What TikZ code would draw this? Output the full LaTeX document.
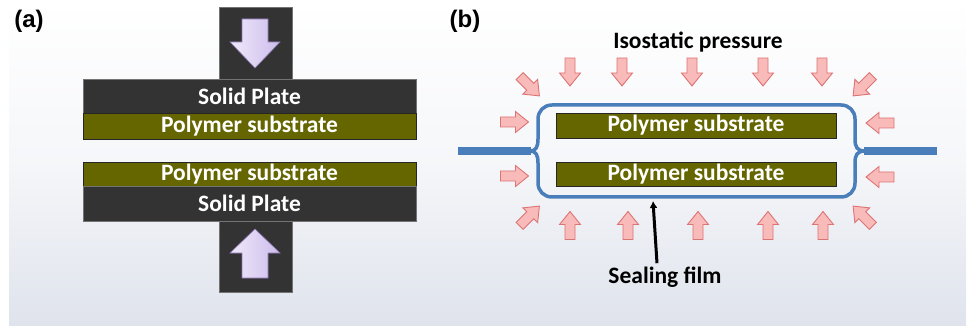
\documentclass[tikz,border=0pt]{standalone}
\usepackage{fontspec}
\setmainfont{Carlito}
\newfontfamily\panelfont{Liberation Sans}
\usetikzlibrary{arrows.meta}

\definecolor{plategray}{HTML}{333333}
\definecolor{polyolive}{HTML}{666600}
\definecolor{filmblue}{HTML}{4A7EBB}
\definecolor{pinkfill}{HTML}{F9BABA}
\definecolor{pinkline}{HTML}{DD7474}
\definecolor{lavlight}{HTML}{EFEAFA}
\definecolor{lavdark}{HTML}{CDBCEC}
\definecolor{lavline}{HTML}{8C74B4}
\definecolor{panelbot}{HTML}{DFE3EC}

\tikzset{
  bigtext/.style={font=\fontsize{23.5}{23.5}\selectfont\bfseries},
  plate/.style={bigtext, fill=plategray, draw=black!55, line width=0.6pt, text=white, inner sep=0pt},
  polymer/.style={bigtext, fill=polyolive, draw=black!85, line width=0.8pt, text=white, inner sep=0pt},
  tag/.style={font=\fontsize{24}{24}\selectfont\panelfont\bfseries},
  film/.style={draw=filmblue, line width=3.5pt},
  pressarrow/.pic={
    \filldraw[fill=pinkfill, draw=pinkline, line width=0.9pt]
      (-14,-5) -- (1,-5) -- (1,-10.5) -- (14,0) -- (1,10.5) -- (1,5) -- (-14,5) -- cycle;
  }
}

\begin{document}
\begin{tikzpicture}[x=1pt,y=-1pt]
  \useasboundingbox (0,0) rectangle (967,326);
  \shade[top color=white, bottom color=panelbot, middle color=white!70!panelbot] (9,0) rectangle (966,325);

  % ---- (a) plates pressed together
  \node[tag] (taga) at (29,21) {(a)};
  \node[plate, minimum width=73, minimum height=72] (topstem) at (255.5,43) {};
  \node[plate, minimum width=73, minimum height=71] (botstem) at (255.5,256.5) {};
  \node[plate, minimum width=333, minimum height=34] (topplate) at (249.5,96) {Solid Plate};
  \node[polymer, minimum width=333, minimum height=26] (toppoly) at (249.5,126) {Polymer substrate};
  \node[polymer, minimum width=333, minimum height=24] (botpoly) at (249.5,174) {Polymer substrate};
  \node[plate, minimum width=333, minimum height=35] (botplate) at (249.5,203.5) {Solid Plate};

  \shadedraw[left color=lavlight, right color=lavdark, draw=lavline, line width=0.6pt]
    (242,19) -- (268,19) -- (268,42) -- (280,42) -- (255,68) -- (230,42) -- (242,42) -- cycle;
  \shadedraw[left color=lavlight, right color=lavdark, draw=lavline, line width=0.6pt]
    (242,278) -- (268,278) -- (268,253) -- (280,253) -- (255,229) -- (230,253) -- (242,253) -- cycle;

  % ---- (b) isostatic pressing in a sealed film
  \node[tag] (tagb) at (465,21) {(b)};
  \node[bigtext] (iso) at (698,42) {Isostatic pressure};

  \node[polymer, minimum width=280, minimum height=25] (upoly) at (696,125.5) {Polymer substrate};
  \node[polymer, minimum width=280, minimum height=24] (lpoly) at (696,174) {Polymer substrate};

  % film bag with its two flat ends
  \draw[film, line width=7.5pt] (458,151) -- (531,151);
  \draw[film, line width=7.5pt] (864,151) -- (937,151);
  \draw[film, line join=round]
    (530,151) .. controls (536,151) and (538,147) .. (538,139) -- (538,119)
    .. controls (538,111) and (544,105) .. (552,105) -- (841,105)
    .. controls (849,105) and (855,111) .. (855,119) -- (855,139)
    .. controls (855,147) and (857,151) .. (865,151)
    .. controls (857,151) and (855,155) .. (855,163) -- (855,183)
    .. controls (855,191) and (849,197) .. (841,197) -- (552,197)
    .. controls (544,197) and (538,191) .. (538,183) -- (538,163)
    .. controls (538,155) and (536,151) .. (530,151);

  % pressure arrows all round
  \foreach \x in {570,622,692,763,822}
    \pic[rotate=-90] at (\x,72) {pressarrow};
  \foreach \x in {570,628,698,768,823}
    \pic[rotate=90] at (\x,225.5) {pressarrow};
  \foreach \y in {122,176}{
    \pic at (514.5,\y) {pressarrow};
    \pic[rotate=180] at (880,\y+1) {pressarrow};
  }
  \pic[rotate=-45] at (529.5,86) {pressarrow};
  \pic[rotate=-135] at (863,86) {pressarrow};
  \pic[rotate=45] at (529.5,216) {pressarrow};
  \pic[rotate=135] at (863,216) {pressarrow};

  \node[bigtext] (sealing) at (665,277) {Sealing film};
  \coordinate (filmtip) at (653,201);
  \draw[line width=3pt, -{Latex[length=7pt,width=8pt]}] ([xshift=-8pt]sealing.north) -- (filmtip);
\end{tikzpicture}
\end{document}
